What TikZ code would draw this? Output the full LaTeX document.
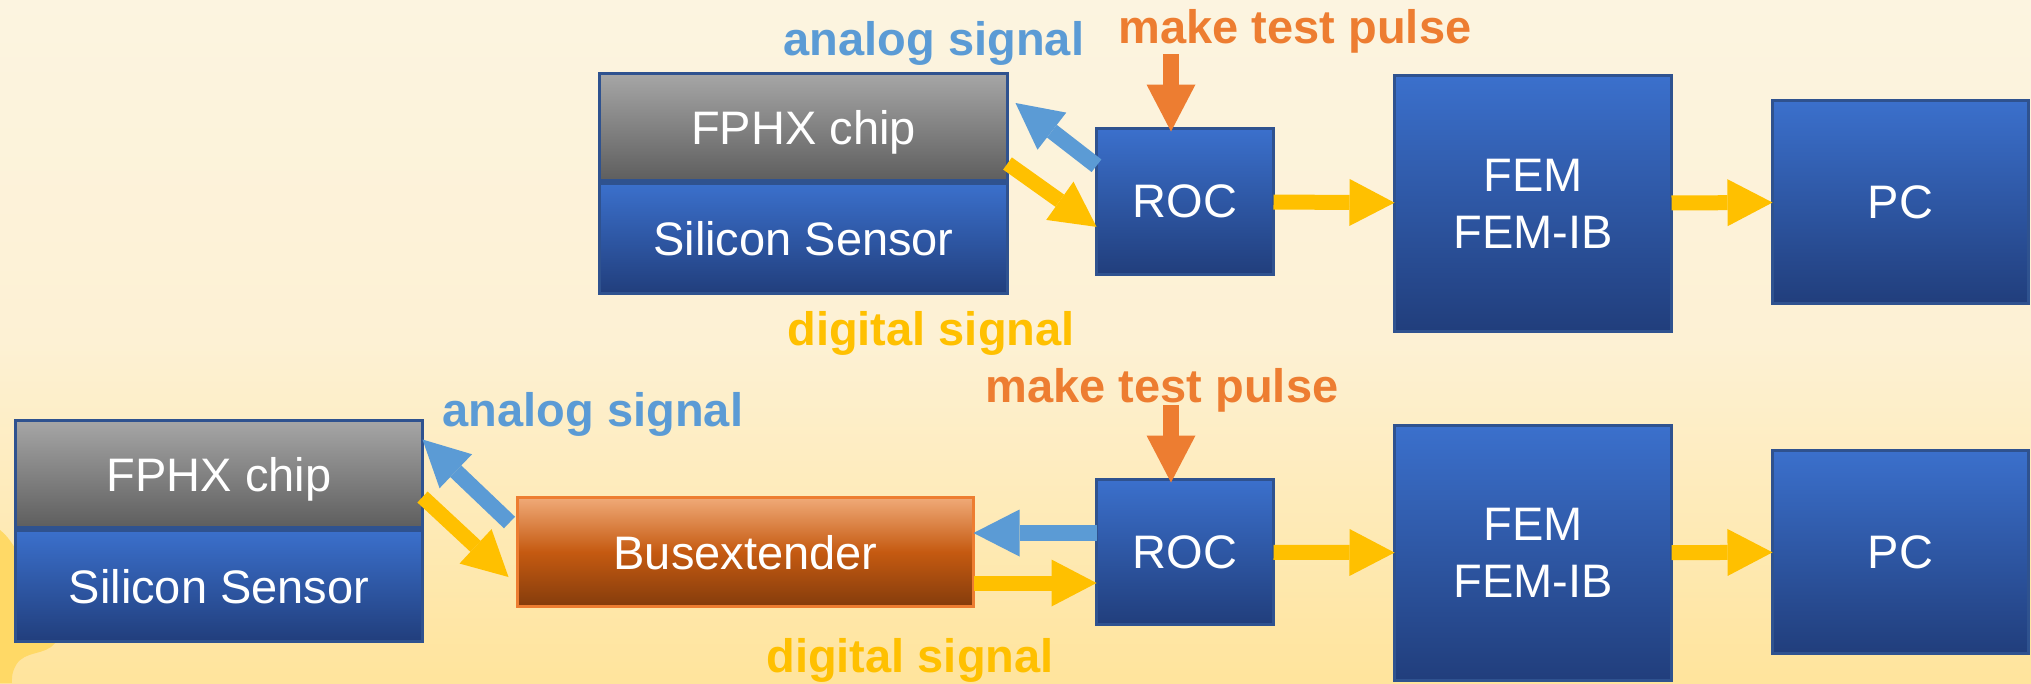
\documentclass[tikz,border=0pt]{standalone}
\usepackage{fontspec}
\setmainfont{Liberation Sans}
\usepackage{tikz}
\usepackage{xcolor}
\usetikzlibrary{arrows.meta,calc}

\definecolor{boxtop}{RGB}{59,112,204}
\definecolor{boxbot}{RGB}{33,62,124}
\definecolor{boxline}{RGB}{47,82,143}
\definecolor{chiptop}{RGB}{166,166,166}
\definecolor{chipbot}{RGB}{94,94,94}
\definecolor{bustop}{RGB}{240,170,120}
\definecolor{busmid}{RGB}{197,90,17}
\definecolor{busbot}{RGB}{132,60,12}
\definecolor{busline}{RGB}{237,125,49}
\definecolor{anablue}{RGB}{91,155,213}
\definecolor{digyel}{RGB}{255,192,0}
\definecolor{pulseorg}{RGB}{237,125,49}
\definecolor{bgtop}{RGB}{252,244,224}
\definecolor{bgmid}{RGB}{253,241,212}
\definecolor{bgbot}{RGB}{255,228,156}
\definecolor{blobyel}{RGB}{255,217,102}

\begin{document}
\begin{tikzpicture}
  [x=1pt,y=-1pt,
   every node/.style={inner sep=0pt,outer sep=0pt,text=white,font=\fontsize{47}{57}\selectfont},
   blk/.style={draw=boxline,line width=3pt,top color=boxtop,bottom color=boxbot,align=center,text depth=0pt},
   chip/.style={blk,top color=chiptop,bottom color=chipbot},
   bus/.style={blk,draw=busline,top color=bustop,bottom color=busbot,middle color=busmid},
   lbl/.style={anchor=base,font=\fontsize{47}{57}\selectfont\bfseries},
   yarr/.style={draw=digyel,line width=15pt,-{Triangle[length=45pt,width=47pt,line width=0pt]}},
   barr/.style={draw=anablue,line width=16pt,-{Triangle[length=46pt,width=47pt,line width=0pt]}},
   oarr/.style={draw=pulseorg,line width=16pt,-{Triangle[length=47pt,width=49pt,line width=0pt]}}]
  \useasboundingbox (0,0) rectangle (2031,683);
  \fill[top color=bgtop,bottom color=bgbot,middle color=bgmid] (0,0) rectangle (2031,683);
  \fill[blobyel] (0,530) .. controls (20,545) and (40,600) .. (55,643)
    .. controls (45,656) and (25,650) .. (16,665) .. controls (11,674) and (12,680) .. (12,683)
    -- (0,683) -- cycle;

  % upper chain
  \node[blk,minimum width=408,minimum height=110] (sensorA) at (803.5,238.5) {Silicon Sensor};
  \node[chip,minimum width=408,minimum height=107] (chipA) at (803.5,127) {FPHX chip};
  \node[blk,minimum width=177,minimum height=146] (rocA) at (1185,201.5) {ROC};
  \node[blk,minimum width=277,minimum height=256] (femA) at (1533,203.5) {FEM\\FEM-IB};
  \node[blk,minimum width=256,minimum height=203] (pcA) at (1900.5,202) {PC};

  \node[lbl,text=anablue] (anaA) at (934,55) {analog signal};
  \node[lbl,text=pulseorg] (pulseTxtA) at (1295,43) {make test pulse};
  \node[lbl,text=digyel] (digA) at (931,345) {digital signal};

  % lower chain
  \node[blk,minimum width=407,minimum height=111] (sensorB) at (219,586) {Silicon Sensor};
  \node[chip,minimum width=407,minimum height=107] (chipB) at (219,474) {FPHX chip};
  \node[bus,minimum width=456,minimum height=109] (busB) at (745.5,552) {Busextender};
  \node[blk,minimum width=177,minimum height=145] (rocB) at (1185,552) {ROC};
  \node[blk,minimum width=277,minimum height=255] (femB) at (1533,553) {FEM\\FEM-IB};
  \node[blk,minimum width=256,minimum height=203] (pcB) at (1900.5,552) {PC};

  \node[lbl,text=anablue] (anaB) at (593,426) {analog signal};
  \node[lbl,text=pulseorg] (pulseTxtB) at (1162,402) {make test pulse};
  \node[lbl,text=digyel] (digB) at (910,672) {digital signal};

  \coordinate (pulseA) at (1171,54);
  \coordinate (pulseB) at (1171,405);

\foreach \from/\to in {rocA/femA,femA/pcA,rocB/femB,femB/pcB}
    \draw[yarr] (\from) -- (\to);

  \draw[barr] (rocA.158.5) -- ($(chipA.east)+(8,-24)$);
  \draw[yarr] ($(chipA.south east)+(0,-17)$) -- (rocA.196);
  \draw[oarr] (pulseA) -- ($(rocA.north)+(-14,3)$);

  \draw[barr] ($(busB.north west)+(-8,25)$) -- ($(chipB.north east)+(0,19)$);
  \draw[yarr] ($(chipB.east)+(0,23)$) -- ($(busB.west)+(-9,25)$);
  \draw[barr] ($(rocB.west)+(0,-19)$) -- ($(busB.east)+(0,-19)$);
  \draw[yarr] ($(busB.east)+(0,31)$) -- ($(rocB.west)+(0,31)$);
  \draw[oarr] (pulseB) -- ($(rocB.north)+(-14,3)$);

\end{tikzpicture}
\end{document}
